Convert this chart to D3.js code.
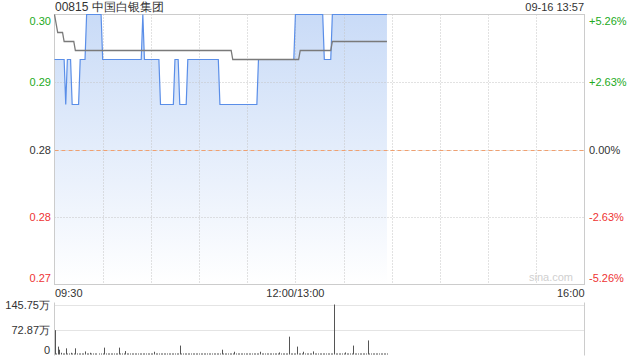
<!DOCTYPE html>
<html><head><meta charset="utf-8">
<script src="https://cdn.jsdelivr.net/npm/d3@7"></script>
<style>body{margin:0;background:#fff}svg{display:block}text{font-family:"Liberation Sans",Arial,sans-serif}</style>
</head><body><svg id="c" width="640" height="360"></svg>
<script>
const title = "00815 中国白银集团";
const stamp = "09-16 13:57";
const prevClose = 0.285;
const priceTicks = [0.30, 0.2925, 0.285, 0.2775, 0.27];
const priceTickLabels = ["0.30", "0.29", "0.28", "0.28", "0.27"];
const pctTickLabels = ["+5.26%", "+2.63%", "0.00%", "-2.63%", "-5.26%"];
const timeLabels = ["09:30", "12:00/13:00", "16:00"];
const volTickLabels = ["145.75万", "72.87万", "0"];
const volTicks = [145.75, 72.87, 0];

const priceTimes = ["09:30","09:36","09:37","09:38","09:40","09:41","09:45","09:46","09:49","09:50","09:59","10:00","10:24","10:25","10:26","10:35","10:36","10:44","10:45","10:47","10:48","10:52","10:53","11:12","11:13","11:36","11:37","11:59","13:00","13:17","13:18","13:22","13:23","13:57"];
const prices = [0.295,0.295,0.29,0.295,0.295,0.29,0.29,0.295,0.295,0.30,0.30,0.295,0.295,0.30,0.295,0.295,0.29,0.29,0.295,0.295,0.29,0.29,0.295,0.295,0.29,0.29,0.295,0.295,0.30,0.30,0.295,0.295,0.30,0.30];

const avgTimes = ["09:30","09:32","09:35","09:36","09:42","09:43","11:20","11:21","13:02","13:03","13:22","13:23","13:57"];
const avgPrices = [0.300,0.298,0.298,0.297,0.297,0.296,0.296,0.295,0.295,0.296,0.296,0.297,0.297];

// volume per minute (万), from 09:30
const volumes = [
71,1,23,14,5,2,1,18,2,1,
5,1,2,18,3,1,2,1,2,9,
1,2,5,1,1,2,1,0,1,2,
1,20,3,1,2,1,1,2,1,1,
20,2,1,1,10,3,1,2,1,1,
2,1,1,2,1,1,3,1,2,1,
1,2,8,1,1,2,1,1,2,1,
1,2,1,1,2,1,1,3,26,1,
2,1,1,2,1,1,2,1,1,2,
1,1,2,1,1,3,1,2,1,1,
2,1,1,2,14,1,2,1,1,2,
1,1,8,2,1,1,2,1,1,2,
1,1,2,1,1,2,1,1,8,1,
2,1,1,2,1,1,2,1,1,3,
6,1,2,1,1,2,52,1,2,1,
2,23,1,2,1,8,1,2,1,1,
2,9,1,1,2,1,1,2,1,1,
2,1,1,2,145.75,1,2,1,1,2,
1,6,2,1,1,2,26,1,2,1,
1,2,1,1,2,41,1,2,1,1,
2,1,1,2,1,1,2,1];

function tIndex(s){const [h,m]=s.split(":").map(Number);const t=h*60+m;return t<=720?t-570:t-780+150;}

const svg = d3.select("#c");
const L=54.5, R=584.5, T=14.5, B=284.5, VT=304.5, VB=354.5;
const x = d3.scaleLinear().domain([0,330]).range([L,R]);
const y = d3.scaleLinear().domain([0.27,0.30]).range([B,T]);
const yv = d3.scaleLinear().domain([0,145.75]).range([VB,VT]);

const defs = svg.append("defs");
const g = defs.append("linearGradient").attr("id","fillg").attr("gradientUnits","userSpaceOnUse")
  .attr("x1",0).attr("y1",T).attr("x2",0).attr("y2",B);
g.append("stop").attr("offset",0).attr("stop-color","#c9dbf7");
g.append("stop").attr("offset",1).attr("stop-color","#ffffff");

const pData = priceTimes.map((t,i)=>({i:tIndex(t),v:prices[i]}));
const aData = avgTimes.map((t,i)=>({i:tIndex(t),v:avgPrices[i]}));

svg.append("path").datum(pData).attr("fill","url(#fillg)")
  .attr("d",d3.area().x(d=>x(d.i)).y0(B).y1(d=>y(d.v)));

// grid
const grid = svg.append("g");
for(let k=1;k<11;k++){
  const gx=Math.round(x(k*30))+0.5;
  grid.append("line").attr("x1",gx).attr("x2",gx).attr("y1",T).attr("y2",B)
    .attr("stroke","#c4c4c4").attr("stroke-dasharray","1,2");
}
[priceTicks[1],priceTicks[2],priceTicks[3]].forEach(v=>{
  const gy=Math.round(y(v))+0.5;
  grid.append("line").attr("x1",L).attr("x2",R).attr("y1",gy).attr("y2",gy)
    .attr("stroke","#c4c4c4").attr("stroke-dasharray","1,2");
});
const zy=Math.round(y(prevClose))+0.5;
grid.append("line").attr("x1",L).attr("x2",R).attr("y1",zy).attr("y2",zy)
  .attr("stroke","#f0a070").attr("stroke-dasharray","4,3");

svg.append("rect").attr("x",L).attr("y",T).attr("width",R-L).attr("height",B-T)
  .attr("fill","none").attr("stroke","#cccccc");

svg.append("path").datum(pData).attr("fill","none").attr("stroke","#5a8ee8").attr("stroke-width",1.2)
  .attr("d",d3.line().x(d=>x(d.i)).y(d=>y(d.v)));
svg.append("path").datum(aData).attr("fill","none").attr("stroke","#7a7a7a").attr("stroke-width",1.3)
  .attr("d",d3.line().x(d=>x(d.i)).y(d=>y(d.v)));

// labels
const colorFor = v => v>prevClose+1e-9 ? "#22aa22" : (v<prevClose-1e-9 ? "#ee3333" : "#333333");
const labOffset = [6,0,0,0,-6.5];
priceTicks.forEach((v,k)=>{
  const yy=y(v)+labOffset[k]+4;
  svg.append("text").attr("x",51).attr("y",yy).attr("text-anchor","end").attr("font-size",11)
    .attr("fill",colorFor(v)).text(priceTickLabels[k]);
  svg.append("text").attr("x",589).attr("y",yy).attr("text-anchor","start").attr("font-size",11)
    .attr("fill",colorFor(v)).text(pctTickLabels[k]);
});
svg.append("text").attr("x",55).attr("y",11).attr("font-size",12).attr("fill","#333").text(title);
svg.append("text").attr("x",584).attr("y",11).attr("font-size",11).attr("text-anchor","end").attr("fill","#333").text(stamp);
svg.append("text").attr("x",573).attr("y",281).attr("font-size",11).attr("text-anchor","end").attr("fill","#d0d0d0").text("sina.com");

const tPos=[0,150,330], tAnchor=["start","middle","end"];
timeLabels.forEach((s,k)=>{
  svg.append("text").attr("x",x(tPos[k])+(k===0?0.5:0)).attr("y",297).attr("font-size",11)
    .attr("text-anchor",tAnchor[k]).attr("fill","#333").text(s);
});

// volume panel
[volTicks[0],volTicks[1]].forEach(v=>{
  const gy=Math.round(yv(v))+0.5;
  svg.append("line").attr("x1",L).attr("x2",R).attr("y1",gy).attr("y2",gy)
    .attr("stroke","#c8c8c8").attr("stroke-dasharray","1,1");
});
svg.append("line").attr("x1",L).attr("x2",L).attr("y1",VT-2).attr("y2",VB+1).attr("stroke","#cccccc");
svg.append("line").attr("x1",R).attr("x2",R).attr("y1",VT-2).attr("y2",VB+1).attr("stroke","#cccccc");
svg.append("g").selectAll("rect").data(volumes).join("rect")
  .attr("x",(d,i)=>Math.round(x(i)))
  .attr("width",1)
  .attr("y",d=>Math.min(yv(d),VB-1))
  .attr("height",d=>Math.max(VB-yv(d),d>0?1:0))
  .attr("fill","#555");
const vOff=[4,4,-1];
volTicks.forEach((v,k)=>{
  svg.append("text").attr("x",50).attr("y",yv(v)+vOff[k]).attr("text-anchor","end").attr("font-size",11)
    .attr("fill","#333").text(volTickLabels[k]);
});
</script></body></html>
